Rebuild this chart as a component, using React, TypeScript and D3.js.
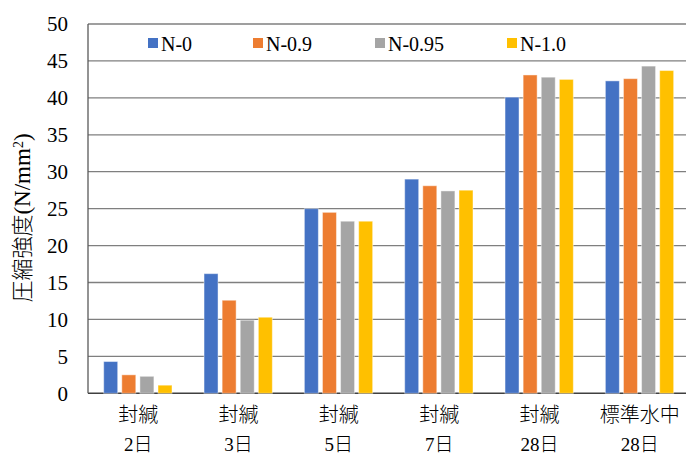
import React from "react";
import * as d3 from "d3";

const categories = ["封緘\n2日", "封緘\n3日", "封緘\n5日", "封緘\n7日", "封緘\n28日", "標準水中\n28日"];
const seriesNames = ["N-0", "N-0.9", "N-0.95", "N-1.0"];
const seriesN0 = [4.3, 16.2, 25.0, 29.0, 40.1, 42.3];
const seriesN09 = [2.5, 12.6, 24.5, 28.1, 43.1, 42.6];
const seriesN095 = [2.3, 9.9, 23.3, 27.4, 42.8, 44.3];
const seriesN10 = [1.1, 10.3, 23.3, 27.5, 42.5, 43.7];
const yTicks = [0, 5, 10, 15, 20, 25, 30, 35, 40, 45, 50];
const colors = ["#4472C4", "#ED7D31", "#A5A5A5", "#FFC000"];

const allSeries = [seriesN0, seriesN09, seriesN095, seriesN10];

const W = 686;
const H = 457;
const SERIF = "'Liberation Serif', 'Times New Roman', Tinos, 'DejaVu Serif', 'Noto Serif', Times, serif";
const CJK = "'Noto Sans CJK JP', sans-serif";

export default function App() {
  const left = 88;
  const right = 690;
  const top = 24;
  const bottom = 393.3;
  const x = d3.scaleBand<string>().domain(categories).range([left, right]).padding(0);
  const inner = d3
    .scaleBand<string>()
    .domain(seriesNames)
    .range([15.7, 84])
    .paddingInner(0.227)
    .paddingOuter(0);
  const y = d3.scaleLinear().domain([0, 50]).range([bottom, top]);
  const serif = { fontFamily: SERIF };
  const cjk = { fontFamily: CJK };

  return (
    <svg
      width={W}
      height={H}
      style={{ position: "absolute", left: 0, top: 0, background: "#fff" }}
    >
      <rect x={0} y={0} width={W} height={H} fill="#fff" />
      {yTicks.map((t) => (
        <line
          key={t}
          x1={left}
          x2={W}
          y1={y(t)}
          y2={y(t)}
          stroke={t === 0 ? "#404040" : "#7f7f7f"}
          strokeWidth={t === 0 ? 1.6 : 1.3}
        />
      ))}
      <rect x={left + 1} y={y(50) + 1} width={W - left} height={y(45) - y(50) - 2} fill="#fff" />
      <line x1={left} x2={left} y1={y(50)} y2={y(0)} stroke="#595959" strokeWidth={1.3} />
      {allSeries.map((vals, si) =>
        vals.map((v, ci) => (
          <rect
            key={`${si}-${ci}`}
            x={(x(categories[ci]) as number) + (inner(seriesNames[si]) as number)}
            y={y(v)}
            width={inner.bandwidth()}
            height={y(0) - y(v)}
            fill={colors[si]}
            stroke="#ffffff"
            strokeOpacity={0.45}
            strokeWidth={1}
          />
        ))
      )}
      {yTicks.map((t) => (
        <text key={t} x={68} y={y(t)} dy="0.35em" textAnchor="end" fontSize={21} fill="#000" style={serif}>
          {t}
        </text>
      ))}
      {categories.map((c) => {
        const cx = (x(c) as number) + x.bandwidth() / 2;
        const [l1, l2] = c.split("\n");
        const m = l2.match(/^(\d+)(.*)$/) || ["", "", l2];
        return (
          <g key={c}>
            <text x={cx} y={415} dy="0.35em" textAnchor="middle" fontSize={20} fill="#000" style={cjk} fontWeight={300}>
              {l1}
            </text>
            <text x={cx} y={444} dy="0.35em" textAnchor="middle" fontSize={19} fill="#000">
              <tspan style={serif}>{m[1]}</tspan>
              <tspan style={cjk} fontWeight={300}>{m[2]}</tspan>
            </text>
          </g>
        );
      })}
      <text
        transform={`translate(30,218) rotate(-90)`}
        textAnchor="middle"
        fontSize={22}
        fill="#000"
      >
        <tspan style={cjk} fontWeight={300}>圧縮強度</tspan>
        <tspan style={serif} fontSize={23}>(N/mm</tspan>
        <tspan style={serif} baselineShift="super" fontSize={14}>2</tspan>
        <tspan style={serif} fontSize={23}>)</tspan>
      </text>
      {seriesNames.map((s, i) => {
        const lx = [148, 253, 375, 507][i];
        return (
          <g key={s}>
            <rect x={lx} y={38} width={10} height={10} fill={colors[i]} />
            <text x={lx + 13} y={51} fontSize={20} fill="#000" style={serif}>
              {s}
            </text>
          </g>
        );
      })}
    </svg>
  );
}
